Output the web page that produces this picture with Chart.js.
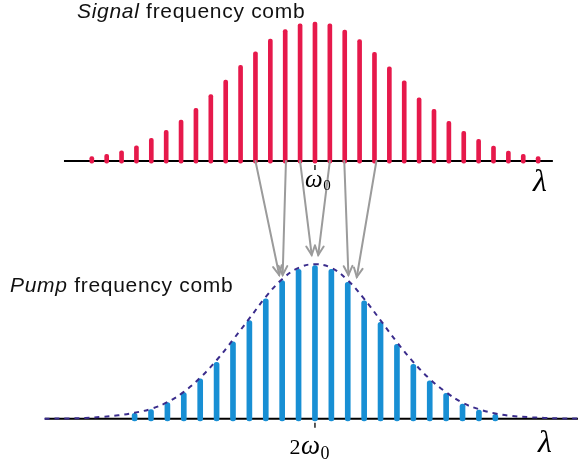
<!DOCTYPE html>
<html>
<head>
<meta charset="utf-8">
<script src="https://cdn.jsdelivr.net/npm/chart.js@4.4.1/dist/chart.umd.min.js"></script>
<style>
  html, body { margin: 0; padding: 0; background: #ffffff; }
  #wrap { width: 585px; height: 469px; }
</style>
</head>
<body>
<div id="wrap"><canvas id="c" width="585" height="469"></canvas></div>
<script>
// ---- Data ----
// Signal comb: mode index relative to ω0, relative amplitude (%)
const signalModes = [-15,-14,-13,-12,-11,-10,-9,-8,-7,-6,-5,-4,-3,-2,-1,0,1,2,3,4,5,6,7,8,9,10,11,12,13,14,15];
const signalAmp   = [3.1,4.8,7.4,11.0,16.3,22.1,29.5,37.9,47.7,58.3,68.8,78.6,87.8,94.5,98.6,100,98.6,94.2,87.3,78.2,67.8,57.6,45.5,37.2,28.6,21.4,15.6,10.8,7.2,4.8,3.1];

// Pump comb: mode index relative to 2ω0, relative amplitude (%)
const pumpModes = [-11,-10,-9,-8,-7,-6,-5,-4,-3,-2,-1,0,1,2,3,4,5,6,7,8,9,10,11];
const pumpAmp   = [3.5,5.9,10.5,17.0,26.0,36.9,50.3,64.1,78.4,90.2,97.6,100,97.6,89.2,77.1,63.0,48.6,35.6,24.8,16.6,9.6,5.7,2.9];

// Pump spectral envelope (dashed), sampled along the pump mode axis
const envelopeModes = [-16.5,-15,-14,-13,-12,-11,-10,-9,-8,-7,-6,-5,-4,-3,-2,-1,0,1,2,3,4,5,6,7,8,9,10,11,12,13,14,15,16.1];
const envelopeAmp   = [0,0.2,0.5,1.2,2.2,3.9,6.4,10.8,17.5,26.8,38.2,51.6,65.5,79.6,91.2,98.6,101,98.6,90.5,78.3,64.3,50,37,26,17.3,10.4,6.2,3.4,1.8,1,0.5,0.2,0.1];

// Axis extents (mode units)
const signalAxisSpan = [-16.87, 15.99];
const pumpAxisSpan   = [-16.47, 16.04];

// Arrows: signal mode -> pump mode (and pump amplitude at the tip)
const arrowFrom    = [-4, -1.95, -1, 1, 1.97, 4.13];
const arrowToMode  = [-2.18, -1.97, -0.2, 0.2, 2.04, 2.55];
const arrowToAmp   = [93.9, 93.9, 107, 107, 93.9, 92.6];

// Labels
const signalTitle = ['Signal', ' frequency comb'];
const pumpTitle   = ['Pump', ' frequency comb'];
const axisLabel = 'λ';

// ---- Styles ----
const RED = 'rgb(230,25,75)';
const BLUE = 'rgb(24,143,212)';
const ENV = 'rgb(58,44,140)';
const GRAY = 'rgb(155,155,155)';

const pts = (xs, ys) => xs.map((x, i) => ({x: x, y: ys[i]}));

const overlay = {
  id: 'overlay',
  afterDatasetsDraw(chart) {
    const ctx = chart.ctx;
    const xs = chart.scales.xs, ys = chart.scales.ys, xp = chart.scales.xp, yp = chart.scales.yp;
    ctx.save();
    // tick marks at ω0 and 2ω0
    ctx.strokeStyle = '#000';
    ctx.lineWidth = 1.3;
    let tx = xs.getPixelForValue(0), ty = ys.getPixelForValue(0);
    ctx.beginPath(); ctx.moveTo(tx, ty + 4); ctx.lineTo(tx, ty + 9); ctx.stroke();
    tx = xp.getPixelForValue(0); ty = yp.getPixelForValue(0);
    ctx.beginPath(); ctx.moveTo(tx, ty + 4); ctx.lineTo(tx, ty + 9); ctx.stroke();

    // arrows
    ctx.strokeStyle = GRAY;
    ctx.lineWidth = 2;
    ctx.lineCap = 'round';
    for (let i = 0; i < arrowFrom.length; i++) {
      const x0 = xs.getPixelForValue(arrowFrom[i]);
      const y0 = ys.getPixelForValue(0);
      const x1 = xp.getPixelForValue(arrowToMode[i]);
      const y1 = yp.getPixelForValue(arrowToAmp[i]);
      ctx.beginPath(); ctx.moveTo(x0, y0); ctx.lineTo(x1, y1); ctx.stroke();
      const ang = Math.atan2(y1 - y0, x1 - x0);
      const L = 10, a = 0.45;
      ctx.beginPath();
      ctx.moveTo(x1 - L * Math.cos(ang - a), y1 - L * Math.sin(ang - a));
      ctx.lineTo(x1, y1);
      ctx.lineTo(x1 - L * Math.cos(ang + a), y1 - L * Math.sin(ang + a));
      ctx.stroke();
    }

    // titles
    ctx.fillStyle = '#111';
    ctx.textBaseline = 'alphabetic';
    ctx.textAlign = 'left';
    try { ctx.letterSpacing = '0.7px'; } catch (e) {}
    const drawTitle = (parts, x, y) => {
      ctx.font = 'italic 21px "Liberation Sans", Arial, sans-serif';
      ctx.fillText(parts[0], x, y);
      const w = ctx.measureText(parts[0]).width;
      ctx.font = '21px "Liberation Sans", Arial, sans-serif';
      ctx.fillText(parts[1], x + w, y);
    };
    drawTitle(signalTitle, 77, 18);
    drawTitle(pumpTitle, 10, 292);
    try { ctx.letterSpacing = '0px'; } catch (e) {}

    // λ labels
    ctx.fillStyle = '#000';
    ctx.font = 'italic 32px "Liberation Serif", "DejaVu Serif", serif';
    ctx.fillText(axisLabel, 533, 191);
    ctx.fillText(axisLabel, 538, 452);

    const sub = (main, s, x, y, mainFont, subFont, drop) => {
      ctx.font = mainFont;
      ctx.fillText(main, x, y);
      const w = ctx.measureText(main).width;
      ctx.font = subFont;
      ctx.fillText(s, x + w + 0.5, y + drop);
    };
    // ω0 label
    sub('ω', '0', 305, 187, 'italic 25px "Liberation Serif", "DejaVu Serif", serif', '15px "Liberation Serif", "DejaVu Serif", serif', 3);

    // 2ω0 label
    ctx.font = '22px "Liberation Serif", "DejaVu Serif", serif';
    ctx.fillText('2', 289.5, 454);
    sub('ω', '0', 301, 454, 'italic 27px "Liberation Serif", "DejaVu Serif", serif', '18px "Liberation Serif", "DejaVu Serif", serif', 5);
    ctx.restore();
  }
};

new Chart(document.getElementById('c'), {
  type: 'bar',
  data: {
    datasets: [
      {
        type: 'line', label: 'pump envelope',
        data: pts(envelopeModes, envelopeAmp),
        xAxisID: 'xp', yAxisID: 'yp',
        borderColor: ENV, borderWidth: 2, borderDash: [5, 5],
        pointRadius: 0, tension: 0.4, fill: false, order: 0
      },
      {
        type: 'bar', label: 'signal comb',
        data: pts(signalModes, signalAmp),
        xAxisID: 'xs', yAxisID: 'ys',
        backgroundColor: RED, barThickness: 4, borderRadius: 2,
        borderSkipped: false, base: -1.5, grouped: false, order: 1
      },
      {
        type: 'bar', label: 'pump comb',
        data: pts(pumpModes, pumpAmp),
        xAxisID: 'xp', yAxisID: 'yp',
        backgroundColor: BLUE, barThickness: 5, borderRadius: 2.5,
        borderSkipped: false, base: -1.4, grouped: false, order: 1
      },
      {
        type: 'line', label: 'signal axis',
        data: pts(signalAxisSpan, [0, 0]),
        xAxisID: 'xs', yAxisID: 'ys',
        borderColor: '#000', borderWidth: 2, pointRadius: 0, order: 3
      },
      {
        type: 'line', label: 'pump axis',
        data: pts(pumpAxisSpan, [0, 0]),
        xAxisID: 'xp', yAxisID: 'yp',
        borderColor: '#000', borderWidth: 2, pointRadius: 0, order: 3
      }
    ]
  },
  options: {
    responsive: false,
    animation: false,
    devicePixelRatio: 1,
    layout: { padding: 0 },
    plugins: { legend: { display: false }, title: { display: false }, tooltip: { enabled: false } },
    scales: {
      xs: { type: 'linear', display: false, offset: false, min: -21.17, max: 18.15 },
      ys: { type: 'linear', display: false, min: -221.58, max: 115.83 },
      xp: { type: 'linear', display: false, offset: false, min: -19.21, max: 16.47 },
      yp: { type: 'linear', display: false, min: -32.88, max: 273.66 }
    }
  },
  plugins: [overlay]
});
</script>
</body>
</html>
